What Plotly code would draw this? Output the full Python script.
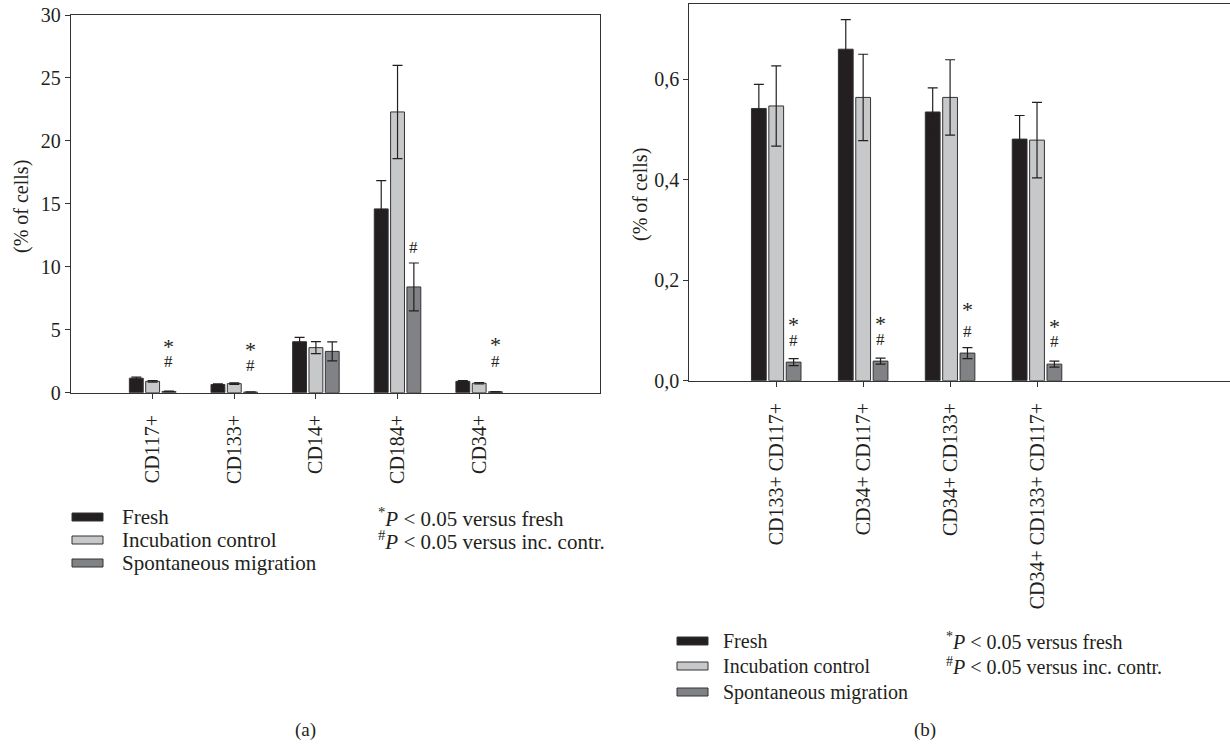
import plotly.graph_objects as go

# ---------------- data ----------------
cats_a = ["CD117+", "CD133+", "CD14+", "CD184+", "CD34+"]
fresh_a = [1.15, 0.65, 4.05, 14.6, 0.9]
fresh_a_err = [0.08, 0.05, 0.35, 2.25, 0.06]
incub_a = [0.9, 0.72, 3.58, 22.3, 0.75]
incub_a_err = [0.07, 0.06, 0.47, 3.7, 0.06]
spont_a = [0.1, 0.05, 3.28, 8.4, 0.07]
spont_a_err = [0.02, 0.01, 0.76, 1.9, 0.02]
sig_a = ["*#", "*#", "", "#", "*#"]

cats_b = ["CD133+ CD117+", "CD34+ CD117+", "CD34+ CD133+", "CD34+ CD133+ CD117+"]
fresh_b = [0.542, 0.660, 0.535, 0.481]
fresh_b_err = [0.048, 0.059, 0.048, 0.047]
incub_b = [0.547, 0.564, 0.564, 0.479]
incub_b_err = [0.080, 0.086, 0.075, 0.075]
spont_b = [0.037, 0.039, 0.055, 0.033]
spont_b_err = [0.007, 0.006, 0.011, 0.006]
sig_b = ["*#", "*#", "*#", "*#"]

yticks_a = [0, 5, 10, 15, 20, 25, 30]
yticks_b = [0.0, 0.2, 0.4, 0.6]

series_names = ["Fresh", "Incubation control", "Spontaneous migration"]
colors = ["#231f20", "#c7c8ca", "#808285"]
INK = "#231f20"
FONT = "Liberation Serif, Times New Roman, serif"

W, H = 1230, 746


def px(x):
    return x / W


def py(y):
    return 1 - y / H


fig = go.Figure()


def add_bars(cats, vals, errs, xa, ya):
    for name, v, e, c in zip(series_names, vals, errs, colors):
        fig.add_trace(go.Bar(
            x=cats, y=v, name=name, xaxis=xa, yaxis=ya,
            marker=dict(color=c, line=dict(color="#333333", width=1)),
            error_y=dict(type="data", array=e, visible=True, color=INK,
                         thickness=1.2, width=5),
            showlegend=False,
        ))


add_bars(cats_a, [fresh_a, incub_a, spont_a],
         [fresh_a_err, incub_a_err, spont_a_err], "x", "y")
add_bars(cats_b, [fresh_b, incub_b, spont_b],
         [fresh_b_err, incub_b_err, spont_b_err], "x2", "y2")

axis_common = dict(showline=True, linecolor="#333333", linewidth=1.3,
                   ticks="outside", ticklen=5, tickcolor="#333333",
                   tickfont=dict(family=FONT, size=20, color=INK),
                   showgrid=False, zeroline=False, automargin=False)

fig.update_layout(
    width=W, height=H, autosize=False,
    margin=dict(l=0, r=0, t=0, b=0, pad=0),
    paper_bgcolor="white", plot_bgcolor="white",
    barmode="group", bargap=0.4, bargroupgap=0.15,
    separators=",.",
    showlegend=False,
    xaxis=dict(domain=[px(71), px(600)], anchor="y", type="category",
               range=[-1, 5.48], mirror=True, tickangle=-90,
               ticklabelstandoff=8, **axis_common),
    yaxis=dict(domain=[py(392.7), py(15)], anchor="x", range=[0, 30],
               tickvals=yticks_a, mirror=True, **axis_common),
    xaxis2=dict(domain=[px(689.3), 1.0], anchor="y2", type="category",
                range=[-1, 5.22], mirror=True, tickangle=-90,
                ticklabelstandoff=8, **axis_common),
    yaxis2=dict(domain=[py(380.7), py(4)], anchor="x2", range=[0, 0.75],
                tickvals=yticks_b, tickformat=".1f", **axis_common),
)

ann = []


# significance markers above the spontaneous-migration bars
def add_sig(sig, vals, errs, xr, yr, star_off, hash_off):
    for i, s in enumerate(sig):
        top = vals[i] + errs[i]
        if "#" in s:
            ann.append(dict(x=i + 0.2, y=top, xref=xr, yref=yr, text="#",
                            showarrow=False, xanchor="center", yanchor="bottom",
                            yshift=hash_off[i], font=dict(family=FONT, size=17, color=INK)))
        if "*" in s:
            ann.append(dict(x=i + 0.2, y=top, xref=xr, yref=yr, text="*",
                            showarrow=False, xanchor="center", yanchor="bottom",
                            yshift=star_off[i], font=dict(family=FONT, size=22, color=INK)))


add_sig(sig_a, spont_a, spont_a_err, "x", "y",
        [30, 28, 0, 0, 33], [18, 15, 0, 4, 19])
add_sig(sig_b, spont_b, spont_b_err, "x2", "y2",
        [20, 20, 24, 20], [7, 7, 5, 8])

# axis titles
ann.append(dict(x=px(21), y=py(207), xref="paper", yref="paper",
                text="(% of cells)", textangle=-90, showarrow=False,
                xanchor="center", yanchor="middle",
                font=dict(family=FONT, size=20, color=INK)))
ann.append(dict(x=px(640), y=py(195), xref="paper", yref="paper",
                text="(% of cells)", textangle=-90, showarrow=False,
                xanchor="center", yanchor="middle",
                font=dict(family=FONT, size=20, color=INK)))

shapes = []


def add_legend(x0, rows, text_x, note_x, fsize):
    for name, c, r in zip(series_names, colors, rows):
        shapes.append(dict(type="rect", xref="paper", yref="paper",
                           x0=px(x0), x1=px(x0 + 31), y0=py(r + 4), y1=py(r - 4),
                           fillcolor=c, line=dict(color="#333333", width=1)))
        ann.append(dict(x=px(text_x), y=py(r), xref="paper", yref="paper",
                        text=name, showarrow=False, xanchor="left", yanchor="middle",
                        font=dict(family=FONT, size=fsize, color=INK)))
    notes = ["<sup>*</sup><i>P</i> &lt; 0.05 versus fresh",
             "<sup>#</sup><i>P</i> &lt; 0.05 versus inc. contr."]
    for t, r in zip(notes, rows[:2]):
        ann.append(dict(x=px(note_x), y=py(r), xref="paper", yref="paper",
                        text=t, showarrow=False, xanchor="left", yanchor="middle",
                        font=dict(family=FONT, size=fsize, color=INK)))


add_legend(72, [517, 540, 563], 120, 376, 21)
add_legend(677, [641, 666, 692], 721, 944, 20)

ann.append(dict(x=px(305), y=py(730), xref="paper", yref="paper", text="(a)",
                showarrow=False, xanchor="center", yanchor="middle",
                font=dict(family=FONT, size=19, color=INK)))
ann.append(dict(x=px(925), y=py(730), xref="paper", yref="paper", text="(b)",
                showarrow=False, xanchor="center", yanchor="middle",
                font=dict(family=FONT, size=19, color=INK)))

fig.update_layout(annotations=ann, shapes=shapes)
fig.write_html(
    "out.html",
    config={"displayModeBar": False},
    post_script="document.body.style.margin='0';document.body.style.overflow='hidden';",
)
